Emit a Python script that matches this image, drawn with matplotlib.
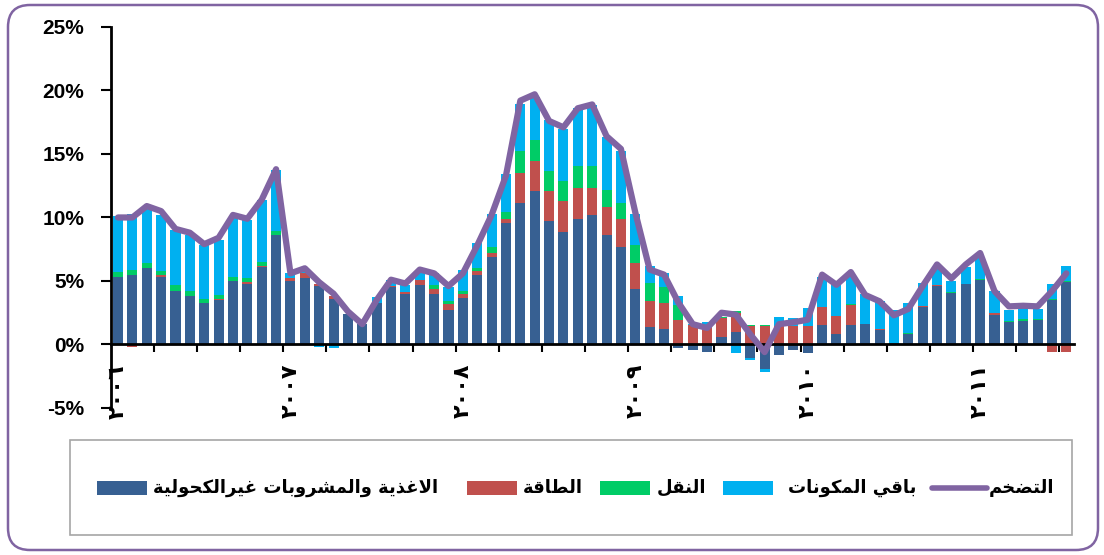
import numpy as np
import matplotlib.pyplot as plt
from matplotlib.patches import FancyBboxPatch, Rectangle
from matplotlib.lines import Line2D

# x axis: monthly, Jan 2006 .. Jul 2011, labelled once a year
years = ['٢٠٠٦', '٢٠٠٧', '٢٠٠٨', '٢٠٠٩', '٢٠١٠', '٢٠١١']

names = ['الاغذية والمشروبات غيرالكحولية', 'الطاقة', 'النقل', 'باقي المكونات']
line_name = 'التضخم'

# contributions to inflation, percentage points
food = [5.3, 5.5, 6.05, 5.3, 4.25, 3.8, 3.25, 3.5, 5.0, 4.8, 6.1, 8.6,
        5.0, 5.2, 4.6, 3.55, 2.4, 1.6, 3.3, 4.5, 3.95, 4.7, 4.0, 2.75,
        3.65, 5.45, 6.9, 9.6, 11.15, 12.1, 9.75, 8.85, 9.9, 10.2, 8.6, 7.65,
        4.35, 1.35, 1.2, -0.3, -0.45, -0.6, 0.55, 0.95, -1.05, -1.95, -0.85, -0.45,
        -0.7, 1.5, 0.8, 1.55, 1.65, 1.13, 0.13, 0.85, 2.95, 4.6, 4.05, 4.8,
        5.05, 2.35, 1.75, 1.85, 1.9, 3.5, 4.9]
energy = [0.0, -0.2, 0.0, 0.15, 0.0, 0.0, 0.0, 0.1, 0.0, 0.1, 0.1, 0.05,
          0.25, 0.45, 0.15, 0.25, 0.0, 0.0, 0.0, 0.13, 0.15, 0.4, 0.35, 0.45,
          0.35, 0.3, 0.3, 0.3, 2.35, 2.35, 2.35, 2.45, 2.45, 2.15, 2.25, 2.2,
          2.1, 2.1, 2.1, 1.9, 1.5, 1.5, 1.5, 1.5, 1.45, 1.45, 1.45, 1.45,
          1.45, 1.45, 1.45, 1.55, 0.0, 0.05, 0.0, 0.0, 0.07, 0.07, 0.0, 0.0,
          0.0, 0.1, 0.0, 0.0, 0.0, -0.63, -0.63]
transport = [0.4, 0.4, 0.35, 0.3, 0.4, 0.4, 0.35, 0.3, 0.3, 0.3, 0.3, 0.3,
             0.0, 0.0, 0.0, 0.0, 0.0, 0.0, 0.0, 0.0, 0.0, 0.0, 0.35, 0.25,
             0.25, 0.3, 0.5, 0.55, 1.7, 1.65, 1.55, 1.6, 1.7, 1.7, 1.35, 1.3,
             1.4, 1.4, 1.25, 1.2, 0.0, 0.0, 0.15, 0.15, 0.08, 0.08, 0.0, 0.0,
             0.0, 0.0, 0.0, 0.1, 0.0, 0.0, 0.0, 0.08, 0.0, 0.0, 0.1, 0.0,
             0.1, 0.0, 0.08, 0.12, 0.12, 0.1, 0.08]
rest = [4.4, 4.4, 4.3, 4.45, 4.35, 4.4, 4.2, 4.3, 4.7, 4.6, 4.9, 4.75,
        0.4, 0.1, -0.2, -0.25, 0.0, 0.0, 0.45, 0.45, 0.55, 0.55, 0.9, 1.1,
        1.65, 1.95, 2.6, 3.0, 3.7, 3.4, 4.05, 4.1, 4.55, 4.8, 4.1, 4.05,
        2.45, 1.35, 1.05, 0.75, 0.15, 0.3, 0.0, -0.7, -0.2, -0.25, 0.7, 0.6,
        1.4, 2.4, 2.75, 2.3, 2.3, 2.25, 2.6, 2.3, 1.85, 1.45, 0.85, 1.3,
        1.75, 1.8, 0.9, 1.0, 0.75, 1.2, 1.2]
inflation = [10.0, 10.0, 10.9, 10.5, 9.1, 8.8, 7.9, 8.4, 10.2, 9.9, 11.4, 13.8,
             5.6, 6.0, 4.9, 4.0, 2.6, 1.6, 3.5, 5.1, 4.8, 5.9, 5.6, 4.6,
             5.6, 7.8, 10.2, 13.3, 19.2, 19.7, 17.6, 17.1, 18.6, 18.9, 16.4, 15.4,
             10.4, 5.9, 5.5, 3.3, 1.6, 1.3, 2.5, 2.35, 0.8, -0.6, 1.6, 1.75,
             1.95, 5.5, 4.7, 5.7, 3.9, 3.4, 2.3, 2.8, 4.6, 6.3, 5.2, 6.3,
             7.2, 4.2, 3.0, 3.05, 3.0, 4.2, 5.6]

colors = ['#376092', '#C0504D', '#00CC66', '#00B0F0']
line_color = '#8064A2'

# small Arabic shaper: DejaVu has the presentation forms, matplotlib does no shaping
DUAL = {'ب': 0xFE8F, 'ت': 0xFE95, 'ح': 0xFEA1, 'خ': 0xFEA5, 'ش': 0xFEB5,
        'ض': 0xFEBD, 'ط': 0xFEC1, 'غ': 0xFECD, 'ق': 0xFED5, 'ك': 0xFED9,
        'ل': 0xFEDD, 'م': 0xFEE1, 'ن': 0xFEE5, 'ي': 0xFEF1}
RIGHT = {'ا': 0xFE8D, 'ة': 0xFE93, 'ذ': 0xFEAB, 'ر': 0xFEAD, 'و': 0xFEED}


def shape(text):
    out = []
    i = 0
    while i < len(text):
        c = text[i]
        prev = text[i - 1] if i > 0 else ''
        nxt = text[i + 1] if i + 1 < len(text) else ''
        jp = prev in DUAL
        if c == 'ل' and nxt == 'ا':
            out.append(chr(0xFEFC if jp else 0xFEFB))
            i += 2
            continue
        if c in DUAL:
            jn = nxt in DUAL or nxt in RIGHT
            out.append(chr(DUAL[c] + [[0, 2], [1, 3]][jp][jn]))
        elif c in RIGHT:
            out.append(chr(RIGHT[c] + (1 if jp else 0)))
        else:
            out.append(c)
        i += 1
    return ''.join(reversed(out))


fig = plt.figure(figsize=(11.04, 5.55), dpi=100)
ax = fig.add_axes([0.1004, 0.2649, 0.872, 0.6865])

x = np.arange(len(food))
pos = np.zeros(len(x))
neg = np.zeros(len(x))
for vals, col in zip([food, energy, transport, rest], colors):
    v = np.array(vals)
    bottom = np.where(v >= 0, pos, neg)
    ax.bar(x, v, width=0.7, bottom=bottom, color=col, linewidth=0, zorder=2)
    pos = pos + np.clip(v, 0, None)
    neg = neg + np.clip(v, None, 0)

ax.plot(x, inflation, color=line_color, lw=4.5, solid_joinstyle='round',
        solid_capstyle='round', zorder=3)

ax.set_xlim(-0.5, 66.5)
ax.set_ylim(-5, 25)
for s in ['top', 'right']:
    ax.spines[s].set_visible(False)
ax.spines['bottom'].set_position(('data', 0))
ax.spines['bottom'].set_linewidth(2)
ax.spines['left'].set_linewidth(2)

ax.set_xticks(np.arange(2.5, 67, 3))
ax.set_xticklabels([])
ax.tick_params(axis='x', which='major', direction='out', length=6, width=1.5)
ax.set_xticks(np.arange(0, 67, 12), minor=True)
ax.set_xticklabels(years, minor=True, rotation=90, fontsize=16, fontweight='bold',
                   family=['DejaVu Sans'])
ax.tick_params(axis='x', which='minor', length=0, pad=14)

yt = np.arange(-5, 26, 5)
ax.set_yticks(yt)
ax.set_yticklabels([f'{v}%' for v in yt], fontsize=15, fontweight='bold',
                   family=['Liberation Sans', 'DejaVu Sans'])
ax.tick_params(axis='y', direction='out', length=7, width=1.5, pad=12)

# outer frame and legend box, in pixels
fig.add_artist(FancyBboxPatch((0.08, 0.05), 10.9, 5.45,
                              boxstyle='round,pad=0,rounding_size=0.22',
                              transform=fig.dpi_scale_trans, fc='none',
                              ec=line_color, lw=1.8))
fig.add_artist(Rectangle((0.70, 0.20), 10.02, 0.95, transform=fig.dpi_scale_trans,
                         fc='none', ec='#A6A6A6', lw=1.2))


def fx(px):
    return px / 1104


ly = 1 - 488 / 555
patches = [(97, 153, colors[0], names[0]), (467, 523, colors[1], names[1]),
           (600, 657, colors[2], names[2]), (723, 788, colors[3], names[3])]
for p0, t0, col, name in patches:
    fig.add_artist(Rectangle((fx(p0), ly - 7 / 555), fx(50), 14 / 555,
                             transform=fig.transFigure, fc=col, ec='none'))
    fig.text(fx(t0), ly, shape(name), ha='left', va='center', fontsize=13,
             fontweight='bold', family=['DejaVu Sans'])
fig.add_artist(Line2D([fx(932), fx(987)], [ly, ly], transform=fig.transFigure,
                      color=line_color, lw=4, solid_capstyle='round'))
fig.text(fx(989), ly, shape(line_name), ha='left', va='center', fontsize=13,
         fontweight='bold', family=['DejaVu Sans'])

fig.savefig('out.png', dpi=100)
